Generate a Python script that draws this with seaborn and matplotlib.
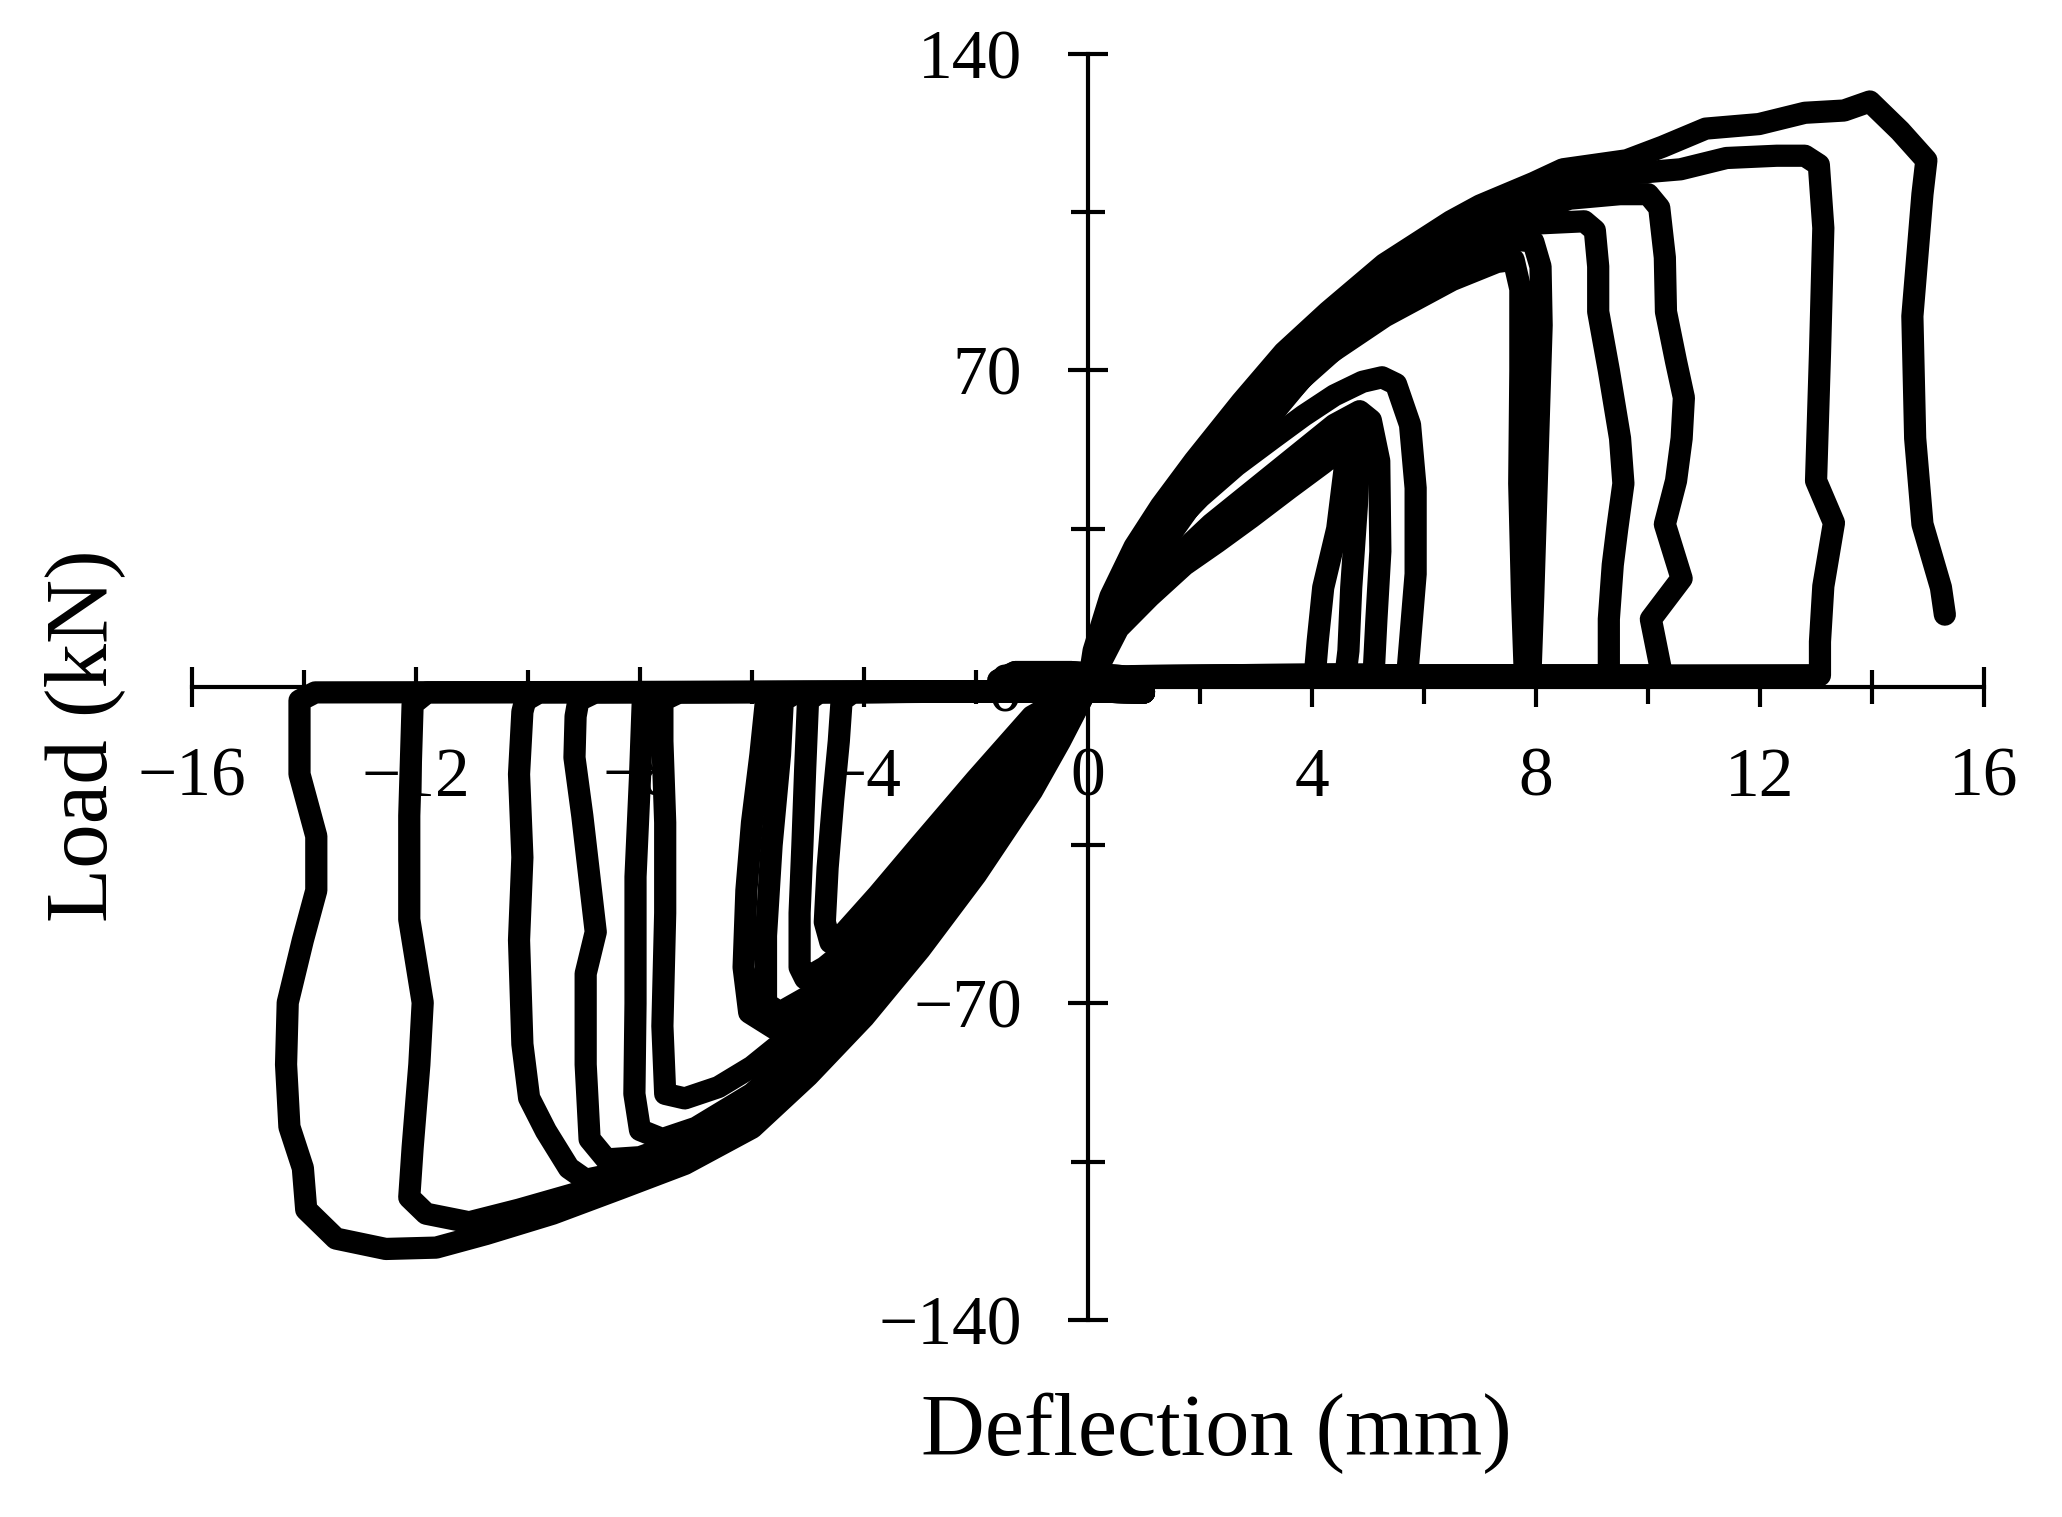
import numpy as np
import pandas as pd
import seaborn as sns
import matplotlib.pyplot as plt
from matplotlib.ticker import MultipleLocator

# ---------- data: load-deflection loops (mm, kN) ----------
# positive half cycles (loading -> peak -> unloading -> return at ~zero load)
pos_45a_defl = [0, 0.54, 1.1, 1.72, 2.3, 2.91, 3.6, 4.2, 4.5, 4.6, 4.45, 4.2, 4.1, 4.05, 2.5, 0.8, 0.2]
pos_45a_load = [0, 13, 20, 27, 32, 37.5, 44, 49.5, 52.5, 50, 35, 22, 10, 2.6, 2.4, 2.2, 1.5]
pos_45b_defl = [0, 0.5, 1.2, 2.0, 2.8, 3.5, 4.2, 4.75, 4.85, 4.8, 4.7, 4.65, 4.6, 2.5, 0.8, 0.2]
pos_45b_load = [0, 13, 22, 30, 38, 45, 51.5, 56, 53, 40, 22, 8, 2.8, 2.6, 2.4, 1.5]
pos_5b_defl = [0, 0.5, 1.0, 1.6, 2.2, 2.8, 3.4, 3.9, 4.4, 4.85, 5.05, 5.2, 5.22, 5.15, 5.1, 2.5, 0.8, 0.2]
pos_5b_load = [0, 13, 21, 29, 36, 42, 48, 53, 58, 61, 59, 50, 30, 15, 2.8, 2.6, 2.4, 1.5]
pos_5a_defl = [0, 0.2, 0.55, 1.0, 1.45, 2.0, 2.65, 3.3, 3.85, 4.4, 4.9, 5.25, 5.5, 5.75, 5.85, 5.85, 5.75, 5.7, 2.5, 0.8, 0.2]
pos_5a_load = [0, 8, 18, 27, 35, 42, 49, 55, 60, 64.5, 67.5, 68.5, 67, 58, 44, 25, 10, 2.6, 2.4, 2.2, 1.5]
pos_8b_defl = [0, 0.3, 0.7, 1.2, 2.0, 3.0, 4.1, 5.3, 6.5, 7.3, 7.6, 7.72, 7.72, 7.7, 7.75, 7.8, 2.5, 0.8, 0.2]
pos_8b_load = [0, 9, 19, 29, 43, 57, 72, 82, 90, 94, 94.5, 88, 70, 45, 20, 2.6, 2.4, 2.2, 1.5]
pos_8a_defl = [0, 0.3, 0.8, 1.5, 2.3, 3.2, 4.2, 5.2, 6.0, 6.9, 7.6, 7.95, 8.08, 8.1, 8.05, 8.0, 7.95, 7.9, 2.5, 0.8, -0.3, -1.3, -1.6]
pos_8a_load = [0, 10, 22, 35, 47, 59, 74, 84, 91, 97, 99, 98.5, 93, 80, 60, 40, 20, 2.6, 2.4, 2.2, 3.3, 3.3, 1.5]
pos_9_defl = [0, 0.3, 0.8, 1.5, 2.3, 3.2, 4.2, 5.2, 6.2, 7.1, 8.0, 8.86, 9.05, 9.11, 9.11, 9.3, 9.5, 9.56, 9.45, 9.37, 9.3, 9.3, 2.5, 0.8, 0.2]
pos_9_load = [0, 11, 24, 38, 50, 62, 75, 86, 94, 100, 102.5, 103, 101, 93, 83, 70, 55, 45, 35, 27, 15, 2.6, 2.4, 2.2, 1.5]
pos_10_defl = [0, 0.25, 0.7, 1.2, 2.0, 2.9, 3.8, 4.8, 5.8, 6.8, 7.8, 8.6, 9.5, 10.0, 10.2, 10.3, 10.32, 10.5, 10.64, 10.6, 10.5, 10.3, 10.6, 10.05, 10.25, 2.5, 0.8, -0.3, -1.3, -1.6]
pos_10_load = [0, 9, 20, 30, 44, 57, 68, 79, 89, 97.5, 104.5, 108, 109, 109, 106, 95, 83, 72, 64, 55, 45.6, 36, 24, 15, 2.6, 2.4, 2.2, 3.3, 3.3, 1.5]
pos_13_defl = [0, 0.2, 0.6, 1.0, 1.8, 2.7, 3.6, 4.5, 5.5, 6.3, 7.1, 8.35, 9.62, 10.58, 11.4, 12.3, 12.8, 13.05, 13.13, 13.07, 13.0, 13.32, 13.13, 13.07, 13.07, 2.5, 0.8, 0.2]
pos_13_load = [0, 9, 20, 29, 45, 59, 71, 82, 92, 99, 105, 111, 113.5, 114.5, 117, 117.5, 117.5, 115.5, 101.5, 73.6, 45.6, 36.3, 22.3, 10, 2.6, 2.4, 2.2, 1.5]
pos_15_defl = [0, 0.1, 0.4, 0.83, 1.3, 1.9, 2.74, 3.5, 4.29, 5.29, 6.48, 7.0, 7.96, 8.48, 9.62, 10.26, 11.03, 11.98, 12.8, 13.5, 13.96, 14.5, 14.97, 14.9, 14.72, 14.77, 14.9, 15.23, 15.3]
pos_15_load = [0, 8, 20, 31, 40, 50, 63, 74, 83, 93.5, 103, 106.5, 111.5, 114.5, 116.5, 119.5, 123.5, 124.5, 127, 127.5, 129.5, 123, 116.5, 109, 82, 55, 36, 22, 16]

# negative half cycles
neg_45_defl = [0, -0.5, -1, -2, -3, -3.75, -4.4, -4.6, -4.7, -4.65, -4.55, -4.45, -4.4, -4.2, -2.0, 0.0, 1.0]
neg_45_load = [0, -3, -6.5, -20.5, -35, -46, -55, -56.5, -52, -40, -25, -12, -3, -1.2, -1.0, -1.0, -1.2]
neg_5_defl = [0, -0.5, -1, -2, -3, -4, -4.7, -5.05, -5.15, -5.15, -5.1, -5.05, -5.0, -4.8, -2.0, 0.0, 1.0]
neg_5_load = [0, -6, -12, -27, -41.5, -55, -62, -64.5, -62, -50, -35, -18, -3, -1.2, -1.0, -1.0, -1.2]
neg_55_defl = [0, -0.5, -1, -2, -3, -4, -5, -5.5, -5.75, -5.75, -5.65, -5.5, -5.45, -5.2, -2.0, 0.0, 1.0]
neg_55_load = [0, -7.5, -14.5, -30, -44.5, -58, -68.5, -72, -70, -55, -35, -15, -3, -1.2, -1.0, -1.0, -1.2]
neg_6_defl = [0, -0.5, -1, -2, -3, -4, -5, -5.6, -6.05, -6.15, -6.1, -6.0, -5.85, -5.75, -5.5, -2.0, 0.0, 1.0]
neg_6_load = [0, -9, -17, -33, -48, -62, -72, -75.5, -72, -62, -45, -30, -15, -3, -1.2, -1.0, -1.0, -1.2]
neg_75_defl = [0, -0.5, -1, -2, -3, -4, -5, -6, -6.6, -7.2, -7.55, -7.6, -7.55, -7.55, -7.6, -7.6, -7.3, -2.0, 0.0, 1.0]
neg_75_load = [0, -9, -18, -35, -50, -63, -74, -84, -88.5, -91, -90, -75, -50, -30, -12, -3, -1.2, -1.0, -1.0, -1.2]
neg_8_defl = [0, -0.5, -1, -2, -3, -4, -5, -6, -7, -7.6, -8.0, -8.1, -8.08, -8.08, -8.0, -7.95, -7.7, -2.0, 0.0, 1.0]
neg_8_load = [0, -10, -20, -37, -52, -66, -79, -90, -97.5, -100, -98, -90, -70, -42, -20, -3, -1.2, -1.0, -1.0, -1.2]
neg_9_defl = [0, -0.5, -1, -2, -3, -4, -5, -6, -7, -8, -8.6, -8.9, -8.97, -8.97, -8.79, -9.03, -9.17, -9.15, -9.1, -8.8, -2.0, 0.0, 1.0]
neg_9_load = [0, -10.5, -20.5, -38, -53.5, -67.5, -80.5, -91.5, -99.5, -104, -104.5, -100, -83.5, -63.4, -54.2, -28.5, -15.6, -6.5, -3, -1.2, -1.0, -1.0, -1.2]
neg_10_defl = [0, -0.5, -1, -2, -3, -4, -5, -6, -7, -8, -8.97, -9.27, -9.68, -9.98, -10.1, -10.16, -10.1, -10.16, -10.1, -10.05, -9.8, -2.0, 0.0, 1.0]
neg_10_load = [0, -11, -21, -39, -55, -69, -82, -93, -101.5, -106.5, -109, -106.4, -98.2, -90.9, -79, -56, -37.7, -19.3, -5.5, -3, -1.2, -1.0, -1.0, -1.2]
neg_12_defl = [0, -0.5, -1, -2, -3, -4, -5, -6, -7, -8, -9, -10.16, -11.05, -11.82, -12.12, -12.06, -11.94, -11.88, -12.12, -12.12, -12.06, -11.8, -2.0, 0.0, 1.0]
neg_12_load = [0, -11.5, -22, -40, -56.5, -71, -84, -95, -103.5, -108.5, -111.5, -115.6, -118.4, -116.5, -112.9, -101.9, -83.5, -69.8, -51.4, -28.5, -3.8, -1.2, -1.0, -1.0, -1.2]
neg_14_defl = [0, -0.5, -1, -2, -3, -4, -5, -6, -7.2, -8.37, -9.56, -10.75, -11.64, -12.54, -13.43, -13.96, -14.02, -14.26, -14.32, -14.29, -14.02, -13.78, -13.78, -14.08, -14.08, -13.8, -2.0, 0.0, 1.0]
neg_14_load = [0, -12, -23, -41.5, -58, -73, -86, -97.5, -105.5, -111, -116.5, -121, -124, -124.3, -122, -115.6, -106.4, -97.3, -83.5, -69.8, -56, -45, -33, -19.3, -3, -1.2, -1.0, -1.0, -1.2]

x_ticks = [-16, -12, -8, -4, 0, 4, 8, 12, 16]
y_ticks = [-140, -70, 0, 70, 140]

loops = {
    'p45a': (pos_45a_defl, pos_45a_load), 'p45b': (pos_45b_defl, pos_45b_load),
    'p5b': (pos_5b_defl, pos_5b_load), 'p5a': (pos_5a_defl, pos_5a_load),
    'p8b': (pos_8b_defl, pos_8b_load), 'p8a': (pos_8a_defl, pos_8a_load),
    'p9': (pos_9_defl, pos_9_load), 'p10': (pos_10_defl, pos_10_load),
    'p13': (pos_13_defl, pos_13_load), 'p15': (pos_15_defl, pos_15_load),
    'n45': (neg_45_defl, neg_45_load), 'n5': (neg_5_defl, neg_5_load),
    'n55': (neg_55_defl, neg_55_load), 'n6': (neg_6_defl, neg_6_load),
    'n75': (neg_75_defl, neg_75_load), 'n8': (neg_8_defl, neg_8_load),
    'n9': (neg_9_defl, neg_9_load), 'n10': (neg_10_defl, neg_10_load),
    'n12': (neg_12_defl, neg_12_load), 'n14': (neg_14_defl, neg_14_load),
}
df = pd.concat([pd.DataFrame({'Deflection': d, 'Load': l, 'loop': k})
                for k, (d, l) in loops.items()], ignore_index=True)

# ---------- style ----------
sns.set_style('ticks')
plt.rcParams['font.family'] = ['Liberation Serif', 'DejaVu Serif']
plt.rcParams['text.color'] = 'black'

fig = plt.figure(figsize=(20.62, 15.17), dpi=100)
ax = fig.add_axes([0.0931, 0.1299, 0.8691, 0.8345])

sns.lineplot(data=df, x='Deflection', y='Load', units='loop', estimator=None,
             sort=False, color='black', zorder=3, legend=False, ax=ax)
for ln in ax.lines:
    ln.set_linewidth(16)
    ln.set_solid_capstyle('round')
    ln.set_solid_joinstyle('round')

ax.set_xlim(-16, 16)
ax.set_ylim(-140, 140)
ax.spines['left'].set_position('zero')
ax.spines['bottom'].set_position('zero')
ax.spines['top'].set_visible(False)
ax.spines['right'].set_visible(False)
for s in ('left', 'bottom'):
    ax.spines[s].set_linewidth(3)
    ax.spines[s].set_color('black')

ax.set_xticks(x_ticks)
ax.set_yticks(y_ticks)
ax.xaxis.set_minor_locator(MultipleLocator(2))
ax.yaxis.set_minor_locator(MultipleLocator(35))
ax.tick_params(which='major', direction='inout', length=29, width=3, colors='black',
               labelsize=50)
ax.tick_params(which='minor', direction='inout', length=25, width=3, colors='black')
ax.tick_params(axis='x', which='major', pad=29)
ax.tick_params(axis='y', which='major', pad=33)
ax.set_xlabel('')
ax.set_ylabel('')

fig.text(0.590, 0.055, 'Deflection (mm)', fontsize=63.5, ha='center', va='center', color='black')
fig.text(0.041, 0.515, 'Load (kN)', fontsize=64, ha='center', va='center', rotation=90, color='black')

fig.savefig('out.png', dpi=100, facecolor='white')
